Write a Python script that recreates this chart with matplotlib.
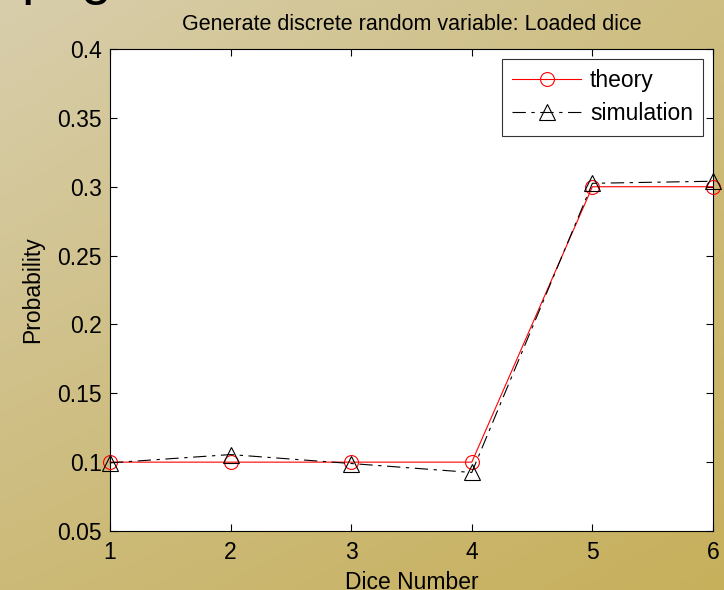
import matplotlib
matplotlib.use("Agg")
import matplotlib.pyplot as plt
import numpy as np

plt.rcParams['font.family'] = ['Liberation Sans', 'DejaVu Sans']

# data
dice = [1, 2, 3, 4, 5, 6]
theory = [0.1, 0.1, 0.1, 0.1, 0.3, 0.3]
simulation = [0.0995, 0.1055, 0.0990, 0.0925, 0.3025, 0.3040]
yticks = [0.05, 0.1, 0.15, 0.2, 0.25, 0.3, 0.35, 0.4]
ytick_labels = ['0.05', '0.1', '0.15', '0.2', '0.25', '0.3', '0.35', '0.4']

fig = plt.figure(figsize=(7.24, 5.9), dpi=100)

# slide background gradient
bg = fig.add_axes([0, 0, 1, 1], zorder=-10)
tl = np.array([216, 206, 172]) / 255.
tr = np.array([206, 190, 130]) / 255.
bl = np.array([204, 186, 120]) / 255.
br = np.array([199, 176, 92]) / 255.
u = np.linspace(0, 1, 200)[None, :, None]
v = np.linspace(0, 1, 200)[:, None, None]
img = (1 - v) * ((1 - u) * tl + u * tr) + v * ((1 - u) * bl + u * br)
bg.imshow(img, aspect='auto', extent=[0, 1, 0, 1], origin='upper')
bg.axis('off')

# slide title above, cut off by the screenshot
fig.text(0.03, 1.012, 'p', fontsize=40, va='baseline', ha='left')
fig.text(0.112, 1.012, 'g', fontsize=40, va='baseline', ha='left')

ax = fig.add_axes([0.1519, 0.1, 0.8329, 0.8169])
ax.set_facecolor('white')

ax.plot(dice, theory, '-o', color='red', linewidth=0.8, markersize=10,
        markerfacecolor='none', markeredgewidth=0.8, label='theory', clip_on=False, zorder=3)
ax.plot(dice, simulation, '-.^', color='black', linewidth=0.8, markersize=11,
        markerfacecolor='none', markeredgewidth=0.8, dashes=(12, 5, 3, 5),
        label='simulation', clip_on=False, zorder=4)

ax.set_xlim(1, 6)
ax.set_ylim(0.05, 0.4)
ax.set_xticks(dice)
ax.set_yticks(yticks)
ax.set_yticklabels(ytick_labels)
ax.tick_params(direction='in', top=True, right=True, labelsize=16.5, length=5, width=0.8)
ax.tick_params(axis='x', pad=7)
ax.tick_params(axis='y', pad=6)
for s in ax.spines.values():
    s.set_linewidth(0.8)

ax.set_title('Generate discrete random variable: Loaded dice', fontsize=15.5, pad=14)
ax.set_xlabel('Dice Number', fontsize=16.5, labelpad=5)
ax.set_ylabel('Probability', fontsize=16.5, labelpad=9)

leg = ax.legend(loc='upper right', fontsize=16.5, handlelength=3.0, handletextpad=0.4,
                frameon=True, fancybox=False, edgecolor='black', borderaxespad=0.42,
                borderpad=0.45, labelspacing=0.45)
leg.get_frame().set_linewidth(0.8)

fig.savefig('out.png', dpi=100)
